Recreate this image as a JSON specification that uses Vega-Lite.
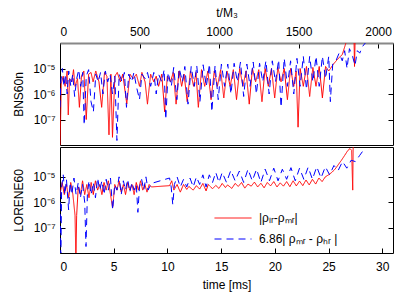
{
  "$schema": "https://vega.github.io/schema/vega-lite/v6.json",
  "background": "white",
  "padding": {"left": 12, "top": 5, "right": 5, "bottom": 5},
  "spacing": 0,
  "config": {
    "font": "Liberation Sans",
    "view": {"stroke": "#000000", "strokeWidth": 1},
    "axis": {"grid": false, "labelFont": "Liberation Sans", "titleFont": "Liberation Sans", "labelFontSize": 12, "titleFontSize": 12, "titleFontWeight": "normal", "labelColor": "#000", "titleColor": "#000", "tickColor": "#000", "domainColor": "#000", "tickSize": -5, "labelPadding": 10}
  },
  "resolve": {"scale": {"color": "independent", "strokeDash": "independent"}},
  "datasets": {
    "bns": [
      {"t":0,"v":5e-9,"s":"a"},{"t":8,"v":2.5e-6,"s":"a"},{"t":20,"v":5e-6,"s":"a"},{"t":32,"v":2e-6,"s":"a"},{"t":45,"v":8e-6,"s":"a"},{"t":52,"v":1.5e-7,"s":"a"},{"t":60,"v":4e-6,"s":"a"},{"t":75,"v":3e-6,"s":"a"},{"t":85,"v":9e-6,"s":"a"},{"t":95,"v":2e-6,"s":"a"},{"t":110,"v":4e-6,"s":"a"},{"t":122,"v":3e-7,"s":"a"},{"t":135,"v":5e-6,"s":"a"},{"t":150,"v":8e-6,"s":"a"},{"t":165,"v":1e-7,"s":"a"},{"t":180,"v":6e-6,"s":"a"},{"t":195,"v":7e-6,"s":"a"},{"t":208,"v":3e-6,"s":"a"},{"t":225,"v":8e-6,"s":"a"},{"t":245,"v":3e-6,"s":"a"},{"t":262,"v":3e-7,"s":"a"},{"t":280,"v":7e-6,"s":"a"},{"t":295,"v":5e-6,"s":"a"},{"t":308,"v":2.5e-8,"s":"a"},{"t":320,"v":6e-6,"s":"a"},{"t":330,"v":2e-8,"s":"a"},{"t":345,"v":5e-6,"s":"a"},{"t":360,"v":7e-6,"s":"a"},{"t":380,"v":3e-6,"s":"a"},{"t":395,"v":6e-6,"s":"a"},{"t":420,"v":4e-7,"s":"a"},{"t":440,"v":6e-6,"s":"a"},{"t":460,"v":4e-6,"s":"a"},{"t":480,"v":6e-6,"s":"a"},{"t":500,"v":2e-6,"s":"a"},{"t":515,"v":7e-6,"s":"a"},{"t":535,"v":3e-6,"s":"a"},{"t":550,"v":4e-7,"s":"a"},{"t":570,"v":6e-6,"s":"a"},{"t":590,"v":3e-6,"s":"a"},{"t":605,"v":5e-6,"s":"a"},{"t":620,"v":2e-6,"s":"a"},{"t":640,"v":6e-6,"s":"a"},{"t":658,"v":2e-7,"s":"a"},{"t":675,"v":5e-6,"s":"a"},{"t":695,"v":3e-6,"s":"a"},{"t":712,"v":7e-6,"s":"a"},{"t":730,"v":4e-7,"s":"a"},{"t":748,"v":8e-6,"s":"a"},{"t":765,"v":2e-6,"s":"a"},{"t":780,"v":6e-6,"s":"a"},{"t":800,"v":5e-7,"s":"a"},{"t":820,"v":8e-6,"s":"a"},{"t":840,"v":2e-6,"s":"a"},{"t":855,"v":7e-6,"s":"a"},{"t":870,"v":3e-7,"s":"a"},{"t":890,"v":9e-6,"s":"a"},{"t":910,"v":2e-6,"s":"a"},{"t":930,"v":8e-6,"s":"a"},{"t":950,"v":6e-7,"s":"a"},{"t":970,"v":8e-6,"s":"a"},{"t":990,"v":2e-6,"s":"a"},{"t":1010,"v":9e-6,"s":"a"},{"t":1030,"v":7e-7,"s":"a"},{"t":1050,"v":8e-6,"s":"a"},{"t":1070,"v":2e-6,"s":"a"},{"t":1090,"v":9e-6,"s":"a"},{"t":1110,"v":6e-7,"s":"a"},{"t":1130,"v":1e-5,"s":"a"},{"t":1150,"v":2e-6,"s":"a"},{"t":1170,"v":8e-6,"s":"a"},{"t":1190,"v":4e-7,"s":"a"},{"t":1210,"v":1e-5,"s":"a"},{"t":1230,"v":3e-6,"s":"a"},{"t":1250,"v":9e-6,"s":"a"},{"t":1270,"v":5e-7,"s":"a"},{"t":1290,"v":1e-5,"s":"a"},{"t":1310,"v":2e-6,"s":"a"},{"t":1330,"v":1e-5,"s":"a"},{"t":1350,"v":7e-7,"s":"a"},{"t":1370,"v":1.1e-5,"s":"a"},{"t":1390,"v":3e-6,"s":"a"},{"t":1410,"v":1e-5,"s":"a"},{"t":1430,"v":6e-7,"s":"a"},{"t":1450,"v":1e-5,"s":"a"},{"t":1470,"v":2e-6,"s":"a"},{"t":1485,"v":8e-6,"s":"a"},{"t":1497,"v":5e-8,"s":"a"},{"t":1510,"v":1e-5,"s":"a"},{"t":1530,"v":2e-6,"s":"a"},{"t":1550,"v":1.2e-5,"s":"a"},{"t":1570,"v":8e-7,"s":"a"},{"t":1590,"v":1.1e-5,"s":"a"},{"t":1610,"v":2e-6,"s":"a"},{"t":1630,"v":1.2e-5,"s":"a"},{"t":1650,"v":7e-7,"s":"a"},{"t":1670,"v":1.2e-5,"s":"a"},{"t":1690,"v":8e-6,"s":"a"},{"t":1720,"v":1.5e-5,"s":"a"},{"t":1750,"v":2.5e-5,"s":"a"},{"t":1775,"v":3.5e-5,"s":"a"},{"t":1800,"v":1.1e-4,"s":"a"},{"t":1830,"v":3e-4,"s":"a"},{"t":1848,"v":3e-4,"s":"a"},{"t":1852,"v":1.2e-5,"s":"a"},{"t":1857,"v":3e-4,"s":"a"},
      {"t":0,"v":3e-7,"s":"b"},{"t":5,"v":3e-6,"s":"b"},{"t":15,"v":1e-5,"s":"b"},{"t":25,"v":2e-6,"s":"b"},{"t":35,"v":6e-6,"s":"b"},{"t":45,"v":1e-6,"s":"b"},{"t":55,"v":8e-6,"s":"b"},{"t":68,"v":2e-6,"s":"b"},{"t":80,"v":6e-6,"s":"b"},{"t":92,"v":8e-7,"s":"b"},{"t":105,"v":4e-6,"s":"b"},{"t":118,"v":9e-6,"s":"b"},{"t":130,"v":2e-6,"s":"b"},{"t":143,"v":7e-6,"s":"b"},{"t":152,"v":6e-8,"s":"b"},{"t":165,"v":5e-6,"s":"b"},{"t":180,"v":9e-6,"s":"b"},{"t":195,"v":5e-7,"s":"b"},{"t":210,"v":2e-7,"s":"b"},{"t":225,"v":6e-6,"s":"b"},{"t":240,"v":3e-6,"s":"b"},{"t":255,"v":7e-6,"s":"b"},{"t":270,"v":1e-6,"s":"b"},{"t":285,"v":8e-6,"s":"b"},{"t":300,"v":3e-6,"s":"b"},{"t":315,"v":6e-6,"s":"b"},{"t":330,"v":1e-6,"s":"b"},{"t":345,"v":5e-6,"s":"b"},{"t":358,"v":1.5e-8,"s":"b"},{"t":372,"v":6e-6,"s":"b"},{"t":390,"v":3e-6,"s":"b"},{"t":405,"v":7e-6,"s":"b"},{"t":418,"v":3e-7,"s":"b"},{"t":432,"v":6e-6,"s":"b"},{"t":450,"v":3e-6,"s":"b"},{"t":465,"v":7e-6,"s":"b"},{"t":480,"v":2e-6,"s":"b"},{"t":500,"v":6e-7,"s":"b"},{"t":515,"v":6e-6,"s":"b"},{"t":535,"v":4e-6,"s":"b"},{"t":550,"v":7e-6,"s":"b"},{"t":570,"v":2e-6,"s":"b"},{"t":590,"v":7e-6,"s":"b"},{"t":605,"v":1e-6,"s":"b"},{"t":620,"v":6e-6,"s":"b"},{"t":640,"v":3e-6,"s":"b"},{"t":655,"v":9e-6,"s":"b"},{"t":665,"v":1e-7,"s":"b"},{"t":680,"v":7e-6,"s":"b"},{"t":700,"v":2e-6,"s":"b"},{"t":715,"v":1.1e-5,"s":"b"},{"t":735,"v":6e-7,"s":"b"},{"t":750,"v":1e-5,"s":"b"},{"t":770,"v":3e-6,"s":"b"},{"t":785,"v":1.2e-5,"s":"b"},{"t":805,"v":4e-7,"s":"b"},{"t":825,"v":1.2e-5,"s":"b"},{"t":845,"v":2e-6,"s":"b"},{"t":860,"v":1.3e-5,"s":"b"},{"t":880,"v":5e-7,"s":"b"},{"t":900,"v":1.4e-5,"s":"b"},{"t":920,"v":2e-6,"s":"b"},{"t":940,"v":1.5e-5,"s":"b"},{"t":955,"v":2e-7,"s":"b"},{"t":975,"v":1.3e-5,"s":"b"},{"t":995,"v":6e-7,"s":"b"},{"t":1015,"v":1.5e-5,"s":"b"},{"t":1035,"v":2e-6,"s":"b"},{"t":1055,"v":1.5e-5,"s":"b"},{"t":1075,"v":1e-6,"s":"b"},{"t":1095,"v":1.6e-5,"s":"b"},{"t":1115,"v":3e-6,"s":"b"},{"t":1135,"v":1.8e-5,"s":"b"},{"t":1155,"v":8e-7,"s":"b"},{"t":1175,"v":1.5e-5,"s":"b"},{"t":1195,"v":2e-6,"s":"b"},{"t":1215,"v":1.8e-5,"s":"b"},{"t":1235,"v":1e-6,"s":"b"},{"t":1255,"v":1.6e-5,"s":"b"},{"t":1275,"v":3e-6,"s":"b"},{"t":1295,"v":2e-5,"s":"b"},{"t":1315,"v":1e-6,"s":"b"},{"t":1335,"v":2e-5,"s":"b"},{"t":1355,"v":3e-6,"s":"b"},{"t":1375,"v":2.2e-5,"s":"b"},{"t":1390,"v":3e-7,"s":"b"},{"t":1410,"v":2.5e-5,"s":"b"},{"t":1430,"v":2e-6,"s":"b"},{"t":1450,"v":2e-5,"s":"b"},{"t":1470,"v":1e-6,"s":"b"},{"t":1490,"v":2.5e-5,"s":"b"},{"t":1510,"v":2e-6,"s":"b"},{"t":1530,"v":3e-5,"s":"b"},{"t":1550,"v":1.5e-6,"s":"b"},{"t":1570,"v":3e-5,"s":"b"},{"t":1590,"v":3e-6,"s":"b"},{"t":1610,"v":3e-5,"s":"b"},{"t":1630,"v":2e-6,"s":"b"},{"t":1650,"v":3e-5,"s":"b"},{"t":1670,"v":4e-6,"s":"b"},{"t":1690,"v":3e-5,"s":"b"},{"t":1700,"v":5e-7,"s":"b"},{"t":1715,"v":1.5e-5,"s":"b"},{"t":1735,"v":2e-5,"s":"b"},{"t":1755,"v":4e-5,"s":"b"},{"t":1775,"v":2e-5,"s":"b"},{"t":1790,"v":5e-5,"s":"b"},{"t":1805,"v":1e-5,"s":"b"},{"t":1820,"v":6e-5,"s":"b"},{"t":1840,"v":3e-5,"s":"b"},{"t":1855,"v":1.3e-5,"s":"b"},{"t":1870,"v":5e-5,"s":"b"},{"t":1885,"v":4e-5,"s":"b"},{"t":1900,"v":7e-5,"s":"b"},{"t":1920,"v":1e-4,"s":"b"}
    ],
    "lor": [
      {"t":0.0,"v":2e-6,"s":"a"},{"t":0.2,"v":6e-6,"s":"a"},{"t":0.4,"v":2e-6,"s":"a"},{"t":0.6,"v":5e-6,"s":"a"},{"t":0.8,"v":1.5e-6,"s":"a"},{"t":1.0,"v":6e-6,"s":"a"},{"t":1.2,"v":2e-6,"s":"a"},{"t":1.4,"v":3e-7,"s":"a"},{"t":1.48,"v":5e-9,"s":"a"},{"t":1.55,"v":3e-7,"s":"a"},{"t":1.7,"v":4e-6,"s":"a"},{"t":1.9,"v":2e-6,"s":"a"},{"t":2.1,"v":7e-6,"s":"a"},{"t":2.3,"v":2e-6,"s":"a"},{"t":2.5,"v":5e-6,"s":"a"},{"t":2.7,"v":1.5e-6,"s":"a"},{"t":2.9,"v":6e-6,"s":"a"},{"t":3.1,"v":2e-6,"s":"a"},{"t":3.3,"v":7e-6,"s":"a"},{"t":3.5,"v":3e-6,"s":"a"},{"t":3.7,"v":5e-6,"s":"a"},{"t":3.9,"v":2e-6,"s":"a"},{"t":4.1,"v":6e-6,"s":"a"},{"t":4.3,"v":3e-6,"s":"a"},{"t":4.5,"v":7e-6,"s":"a"},{"t":4.7,"v":2e-6,"s":"a"},{"t":4.9,"v":6e-7,"s":"a"},{"t":5.1,"v":5e-6,"s":"a"},{"t":5.3,"v":3e-6,"s":"a"},{"t":5.5,"v":7e-6,"s":"a"},{"t":5.7,"v":2.5e-6,"s":"a"},{"t":5.9,"v":5e-6,"s":"a"},{"t":6.1,"v":2e-6,"s":"a"},{"t":6.3,"v":6e-6,"s":"a"},{"t":6.5,"v":3e-6,"s":"a"},{"t":6.7,"v":5e-6,"s":"a"},{"t":6.9,"v":2e-6,"s":"a"},{"t":7.1,"v":6e-6,"s":"a"},{"t":7.3,"v":3e-6,"s":"a"},{"t":7.5,"v":7e-6,"s":"a"},{"t":7.7,"v":3e-6,"s":"a"},{"t":7.9,"v":5e-6,"s":"a"},{"t":8.1,"v":2.5e-6,"s":"a"},{"t":8.3,"v":5e-6,"s":"a"},{"t":8.5,"v":4e-6,"s":"a"},{"t":10.2,"v":4.5e-6,"s":"a"},{"t":10.4,"v":7e-6,"s":"a"},{"t":10.6,"v":3e-6,"s":"a"},{"t":10.9,"v":5e-6,"s":"a"},{"t":11.2,"v":2.5e-6,"s":"a"},{"t":11.5,"v":5e-6,"s":"a"},{"t":11.8,"v":3.2e-6,"s":"a"},{"t":12.0,"v":4.2e-6,"s":"a"},{"t":12.4,"v":3e-6,"s":"a"},{"t":12.7,"v":4.5e-6,"s":"a"},{"t":13.0,"v":3.3e-6,"s":"a"},{"t":13.3,"v":5.5e-6,"s":"a"},{"t":13.6,"v":2.8e-6,"s":"a"},{"t":13.8,"v":5e-6,"s":"a"},{"t":14.2,"v":3.4e-6,"s":"a"},{"t":14.5,"v":4.6e-6,"s":"a"},{"t":14.8,"v":3.5e-6,"s":"a"},{"t":15.1,"v":5.5e-6,"s":"a"},{"t":15.4,"v":3.8e-6,"s":"a"},{"t":15.6,"v":4.8e-6,"s":"a"},{"t":16.0,"v":3.5e-6,"s":"a"},{"t":16.3,"v":5.5e-6,"s":"a"},{"t":16.6,"v":4.2e-6,"s":"a"},{"t":16.9,"v":6e-6,"s":"a"},{"t":17.2,"v":3.6e-6,"s":"a"},{"t":17.5,"v":5.2e-6,"s":"a"},{"t":17.8,"v":4.3e-6,"s":"a"},{"t":18.1,"v":6.2e-6,"s":"a"},{"t":18.4,"v":4e-6,"s":"a"},{"t":18.7,"v":5.6e-6,"s":"a"},{"t":19.0,"v":3.7e-6,"s":"a"},{"t":19.3,"v":6e-6,"s":"a"},{"t":19.6,"v":4.4e-6,"s":"a"},{"t":19.9,"v":6.5e-6,"s":"a"},{"t":20.2,"v":4e-6,"s":"a"},{"t":20.5,"v":5.8e-6,"s":"a"},{"t":20.8,"v":4.3e-6,"s":"a"},{"t":21.1,"v":6.5e-6,"s":"a"},{"t":21.4,"v":4.1e-6,"s":"a"},{"t":21.7,"v":7e-6,"s":"a"},{"t":22.0,"v":4.4e-6,"s":"a"},{"t":22.3,"v":6.8e-6,"s":"a"},{"t":22.6,"v":4.5e-6,"s":"a"},{"t":22.9,"v":7.5e-6,"s":"a"},{"t":23.2,"v":4.8e-6,"s":"a"},{"t":23.5,"v":8e-6,"s":"a"},{"t":23.8,"v":5.2e-6,"s":"a"},{"t":24.1,"v":9e-6,"s":"a"},{"t":24.4,"v":6.5e-6,"s":"a"},{"t":24.7,"v":1e-5,"s":"a"},{"t":25.0,"v":1.2e-5,"s":"a"},{"t":25.3,"v":1.5e-5,"s":"a"},{"t":25.6,"v":2e-5,"s":"a"},{"t":25.9,"v":3e-5,"s":"a"},{"t":26.2,"v":4.5e-5,"s":"a"},{"t":26.5,"v":7e-5,"s":"a"},{"t":26.8,"v":1.1e-4,"s":"a"},{"t":27.0,"v":1.3e-4,"s":"a"},{"t":27.15,"v":1.1e-4,"s":"a"},{"t":27.25,"v":3e-6,"s":"a"},{"t":27.3,"v":3e-4,"s":"a"},
      {"t":0.0,"v":3e-6,"s":"b"},{"t":0.08,"v":5e-9,"s":"b"},{"t":0.15,"v":4e-6,"s":"b"},{"t":0.3,"v":1.2e-5,"s":"b"},{"t":0.45,"v":2e-6,"s":"b"},{"t":0.6,"v":8e-6,"s":"b"},{"t":0.8,"v":5e-7,"s":"b"},{"t":0.95,"v":6e-6,"s":"b"},{"t":1.1,"v":2e-6,"s":"b"},{"t":1.3,"v":9e-6,"s":"b"},{"t":1.5,"v":2e-6,"s":"b"},{"t":1.7,"v":6e-6,"s":"b"},{"t":1.9,"v":1.5e-6,"s":"b"},{"t":2.1,"v":5e-6,"s":"b"},{"t":2.3,"v":1e-6,"s":"b"},{"t":2.42,"v":1.8e-8,"s":"b"},{"t":2.55,"v":2e-6,"s":"b"},{"t":2.7,"v":7e-6,"s":"b"},{"t":2.9,"v":2e-6,"s":"b"},{"t":3.1,"v":6e-6,"s":"b"},{"t":3.3,"v":1.5e-6,"s":"b"},{"t":3.5,"v":9e-6,"s":"b"},{"t":3.7,"v":3e-6,"s":"b"},{"t":3.9,"v":7e-6,"s":"b"},{"t":4.1,"v":2e-6,"s":"b"},{"t":4.3,"v":8e-6,"s":"b"},{"t":4.5,"v":3e-6,"s":"b"},{"t":4.7,"v":9e-6,"s":"b"},{"t":4.9,"v":5e-7,"s":"b"},{"t":5.1,"v":5e-6,"s":"b"},{"t":5.3,"v":3e-6,"s":"b"},{"t":5.5,"v":1e-5,"s":"b"},{"t":5.7,"v":2e-6,"s":"b"},{"t":5.9,"v":7e-6,"s":"b"},{"t":6.1,"v":3e-6,"s":"b"},{"t":6.3,"v":8e-6,"s":"b"},{"t":6.5,"v":2.5e-6,"s":"b"},{"t":6.7,"v":6e-6,"s":"b"},{"t":6.9,"v":3e-6,"s":"b"},{"t":7.1,"v":5e-6,"s":"b"},{"t":7.25,"v":4e-7,"s":"b"},{"t":7.4,"v":4e-6,"s":"b"},{"t":7.6,"v":8e-6,"s":"b"},{"t":7.8,"v":3e-6,"s":"b"},{"t":8.0,"v":1e-5,"s":"b"},{"t":8.2,"v":3e-6,"s":"b"},{"t":8.5,"v":5.5e-6,"s":"b"},{"t":10.2,"v":9e-6,"s":"b"},{"t":10.35,"v":4e-6,"s":"b"},{"t":10.5,"v":8e-7,"s":"b"},{"t":10.65,"v":5e-6,"s":"b"},{"t":10.9,"v":1e-5,"s":"b"},{"t":11.2,"v":4e-6,"s":"b"},{"t":11.5,"v":8e-6,"s":"b"},{"t":11.8,"v":4e-6,"s":"b"},{"t":12.1,"v":9e-6,"s":"b"},{"t":12.4,"v":4e-6,"s":"b"},{"t":12.7,"v":1e-5,"s":"b"},{"t":13.0,"v":5e-6,"s":"b"},{"t":13.3,"v":1.2e-5,"s":"b"},{"t":13.6,"v":4e-6,"s":"b"},{"t":13.9,"v":1.2e-5,"s":"b"},{"t":14.2,"v":6e-6,"s":"b"},{"t":14.5,"v":1.5e-5,"s":"b"},{"t":14.8,"v":6e-6,"s":"b"},{"t":15.1,"v":1.5e-5,"s":"b"},{"t":15.5,"v":6e-6,"s":"b"},{"t":15.9,"v":1.8e-5,"s":"b"},{"t":16.3,"v":7e-6,"s":"b"},{"t":16.7,"v":1.7e-5,"s":"b"},{"t":17.1,"v":6e-6,"s":"b"},{"t":17.5,"v":2e-5,"s":"b"},{"t":17.9,"v":7e-6,"s":"b"},{"t":18.3,"v":2e-5,"s":"b"},{"t":18.7,"v":6e-6,"s":"b"},{"t":19.1,"v":2e-5,"s":"b"},{"t":19.5,"v":7e-6,"s":"b"},{"t":19.9,"v":2.2e-5,"s":"b"},{"t":20.3,"v":7e-6,"s":"b"},{"t":20.7,"v":2e-5,"s":"b"},{"t":21.1,"v":8e-6,"s":"b"},{"t":21.5,"v":2.3e-5,"s":"b"},{"t":21.9,"v":7e-6,"s":"b"},{"t":22.3,"v":2.2e-5,"s":"b"},{"t":22.7,"v":8e-6,"s":"b"},{"t":23.1,"v":2.4e-5,"s":"b"},{"t":23.5,"v":8e-6,"s":"b"},{"t":23.9,"v":2.5e-5,"s":"b"},{"t":24.3,"v":9e-6,"s":"b"},{"t":24.7,"v":2.5e-5,"s":"b"},{"t":25.1,"v":1.2e-5,"s":"b"},{"t":25.5,"v":2.8e-5,"s":"b"},{"t":25.9,"v":1.8e-5,"s":"b"},{"t":26.3,"v":4e-5,"s":"b"},{"t":26.7,"v":2.2e-5,"s":"b"},{"t":27.1,"v":4.5e-5,"s":"b"},{"t":27.5,"v":4e-5,"s":"b"},{"t":27.9,"v":7e-5,"s":"b"},{"t":28.3,"v":1.2e-4,"s":"b"}
    ]
  },
  "vconcat": [
    {
      "width": 333,
      "height": 102,
      "data": {"name": "bns"},
      "resolve": {"axis": {"y": "independent"}},
      "layer": [
        {
          "transform": [{"filter": "datum.s == 'a'"}],
          "mark": {"type": "line", "clip": true, "strokeWidth": 1},
          "encoding": {
            "x": {"field": "t", "type": "quantitative", "scale": {"domain": [0, 2094], "nice": false}, "axis": {"orient": "top", "title": "t/M₃", "format": "d", "values": [0, 500, 1000, 1500, 2000], "domainColor": "#888888", "domainWidth": 2, "titlePadding": 6}},
            "y": {"field": "v", "type": "quantitative", "scale": {"type": "log", "domain": [1e-8, 1e-4], "nice": false}, "axis": {"title": "BNS60n", "values": [1e-7, 1e-6, 1e-5], "labelExpr": "'10' + (datum.value < 2e-7 ? '⁻⁷' : datum.value < 2e-6 ? '⁻⁶' : '⁻⁵')", "domain": false, "titlePadding": 7}},
            "color": {"field": "s", "type": "nominal", "scale": {"domain": ["a", "b"], "range": ["#ff0000", "#0000ff"]}, "legend": null},
            "strokeDash": {"field": "s", "type": "nominal", "scale": {"domain": ["a", "b"], "range": [[1, 0], [7, 5]]}, "legend": null}
          }
        },
        {
          "transform": [{"filter": "datum.s == 'b'"}],
          "mark": {"type": "line", "clip": true, "strokeWidth": 1},
          "encoding": {
            "x": {"field": "t", "type": "quantitative"},
            "y": {"field": "v", "type": "quantitative", "axis": {"orient": "right", "title": null, "labels": false, "values": [1e-7, 1e-6, 1e-5], "domain": false}},
            "color": {"field": "s", "type": "nominal", "legend": null},
            "strokeDash": {"field": "s", "type": "nominal", "legend": null}
          }
        }
      ]
    },
    {
      "width": 333,
      "height": 106,
      "data": {"name": "lor"},
      "resolve": {"axis": {"y": "independent"}},
      "layer": [
        {
          "transform": [{"filter": "datum.s == 'a'"}],
          "mark": {"type": "line", "clip": true, "strokeWidth": 1},
          "encoding": {
            "x": {"field": "t", "type": "quantitative", "scale": {"domain": [0, 31], "nice": false}, "axis": {"orient": "bottom", "title": "time [ms]", "values": [0, 5, 10, 15, 20, 25, 30], "domain": false, "labelPadding": 13, "titlePadding": 7}},
            "y": {"field": "v", "type": "quantitative", "scale": {"type": "log", "domain": [1e-8, 1.5e-4], "nice": false}, "axis": {"title": "LORENE60", "values": [1e-7, 1e-6, 1e-5], "labelExpr": "'10' + (datum.value < 2e-7 ? '⁻⁷' : datum.value < 2e-6 ? '⁻⁶' : '⁻⁵')", "domain": false, "titlePadding": 7}},
            "color": {"field": "s", "type": "nominal", "scale": {"domain": ["a", "b"], "range": ["#ff0000", "#0000ff"]}, "legend": {"orient": "none", "legendX": 154, "legendY": 63, "title": null, "symbolType": "stroke", "symbolSize": 1369, "symbolStrokeWidth": 1, "labelFontSize": 12, "labelFont": "Liberation Sans", "labelColor": "#000", "labelOffset": 7, "clipHeight": 16, "rowPadding": 5, "padding": 0, "labelExpr": "datum.value == 'a' ? '|ρₗᵣ-ρₘᵣ|' : '6.86| ρₘᵣ - ρₕᵣ |'"}},
            "strokeDash": {"field": "s", "type": "nominal", "scale": {"domain": ["a", "b"], "range": [[1, 0], [7, 5]]}, "legend": {"orient": "none", "legendX": 154, "legendY": 63, "title": null, "symbolType": "stroke", "symbolSize": 1369, "symbolStrokeWidth": 1, "labelFontSize": 12, "labelOffset": 7, "clipHeight": 16, "rowPadding": 5, "padding": 0, "labelExpr": "datum.value == 'a' ? '|ρₗᵣ-ρₘᵣ|' : '6.86| ρₘᵣ - ρₕᵣ |'"}}
          }
        },
        {
          "transform": [{"filter": "datum.s == 'b'"}],
          "mark": {"type": "line", "clip": true, "strokeWidth": 1},
          "encoding": {
            "x": {"field": "t", "type": "quantitative"},
            "y": {"field": "v", "type": "quantitative", "axis": {"orient": "right", "title": null, "labels": false, "values": [1e-7, 1e-6, 1e-5], "domain": false}},
            "color": {"field": "s", "type": "nominal"},
            "strokeDash": {"field": "s", "type": "nominal"}
          }
        }
      ]
    }
  ]
}
